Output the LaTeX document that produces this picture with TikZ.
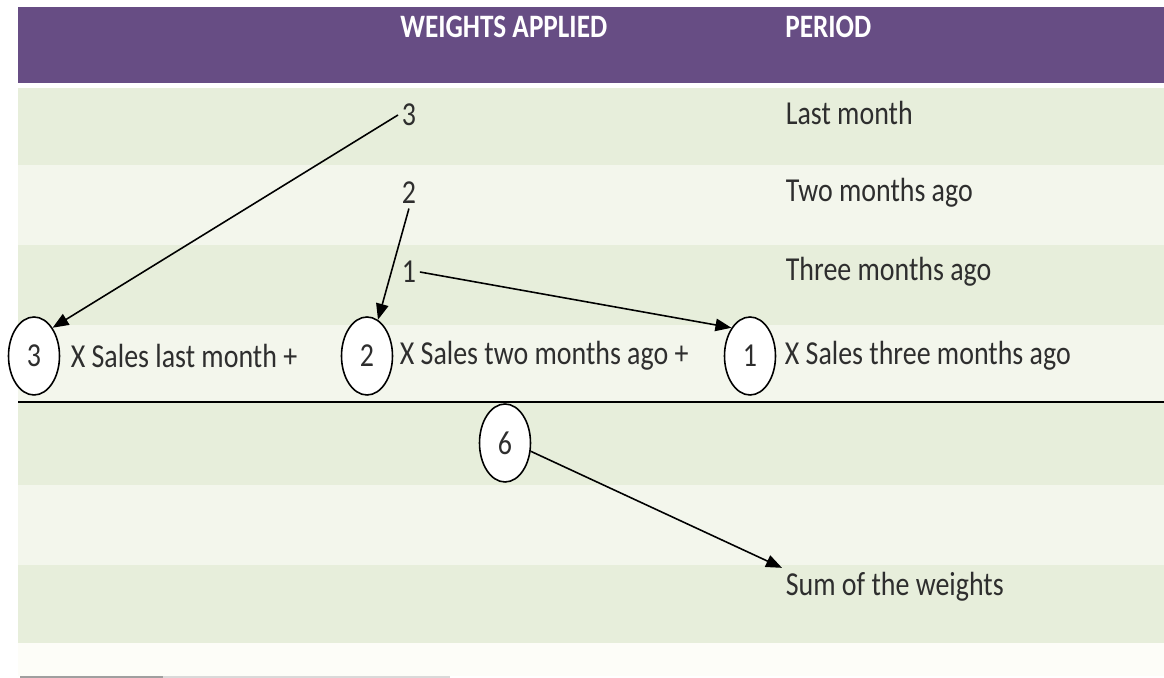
\documentclass[tikz,border=0pt]{standalone}
\usepackage{fontspec}
\setmainfont{Carlito}
\usepackage{xcolor}
\definecolor{hdrPurple}{HTML}{674D84}
\definecolor{bandDark}{HTML}{E7EEDB}
\definecolor{bandLight}{HTML}{F3F6EC}
\definecolor{bandEnd}{HTML}{FDFDF8}
\definecolor{inkGray}{HTML}{2E2E2E}
\usetikzlibrary{arrows.meta, positioning, shapes.geometric}

\begin{document}
\begin{tikzpicture}[x=0.02cm, y=-0.02cm,
  txt/.style={anchor=west, inner sep=2pt, yscale=1.2, text=inkGray,
    font=\fontsize{15.9}{18}\selectfont},
  hdr/.style={anchor=west, inner sep=0pt, yscale=1.2, text=white,
    font=\fontsize{15.5}{18}\selectfont\bfseries},
  weight/.style={ellipse, draw, line width=0.9pt, fill=white, inner sep=0pt,
    minimum width=1.02cm, minimum height=1.3cm, yscale=1.2, text=inkGray,
    font=\fontsize{15.9}{18}\selectfont},
  link/.style={-{Triangle[length=0.32cm, width=0.25cm]}, line width=0.9pt},
]
  \useasboundingbox (0,0) rectangle (1164,678);
  \fill[white] (0,0) rectangle (1164,678);

  % table bands
  \fill[hdrPurple] (18,7) rectangle (1164,83);
  \fill[bandDark] (18,88) rectangle (1164,165);
  \fill[bandLight] (18,165) rectangle (1164,245);
  \fill[bandDark] (18,245) rectangle (1164,325);
  \fill[bandLight] (18,325) rectangle (1164,402);
  \fill[bandDark] (18,402) rectangle (1164,485);
  \fill[bandLight] (18,485) rectangle (1164,565);
  \fill[bandDark] (18,565) rectangle (1164,643);
  \fill[bandEnd] (18,643) rectangle (1164,676);
  \fill[gray!75] (20,676) rectangle (163,678);
  \fill[gray!30] (163,676) rectangle (450,678);

  \node[hdr] (hw) at (400,27) {WEIGHTS APPLIED};
  \node[hdr] (hp) at (785,27) {PERIOD};

  \node[txt] (w3) at (398,115) {3};
  \node[txt] (w2) at (398,193) {2};
  \node[txt] (w1) at (398,272) {1};
  \node[txt] (p1) at (782,113) {Last month};
  \node[txt] (p2) at (782,193) {Two months ago};
  \node[txt] (p3) at (782,272) {Three months ago};

  \node[weight] (c3) at (34,356) {3};
  \node[txt] (f3) at (67,356) {X Sales last month +};
  \node[weight] (c2) at (367,356) {2};
  \node[txt] (f2) at (396,356) {X Sales two months ago +};
  \node[weight] (c1) at (750,356) {1};
  \node[txt] (f1) at (781,356) {X Sales three months ago};

  \draw[line width=1.1pt] (18,402) -- (1164,402);

  \node[weight] (c6) at (505,443) {6};
  \node[txt] (sum) at (782,587) {Sum of the weights};

  \draw[link] (w3.west) -- (c3.north east);
  \draw[link] (w2.south) -- (c2.70);
  \draw[link] (w1.east) -- (c1.north west);
  \draw[link] (c6.-15) -- (sum.north west);
\end{tikzpicture}
\end{document}
